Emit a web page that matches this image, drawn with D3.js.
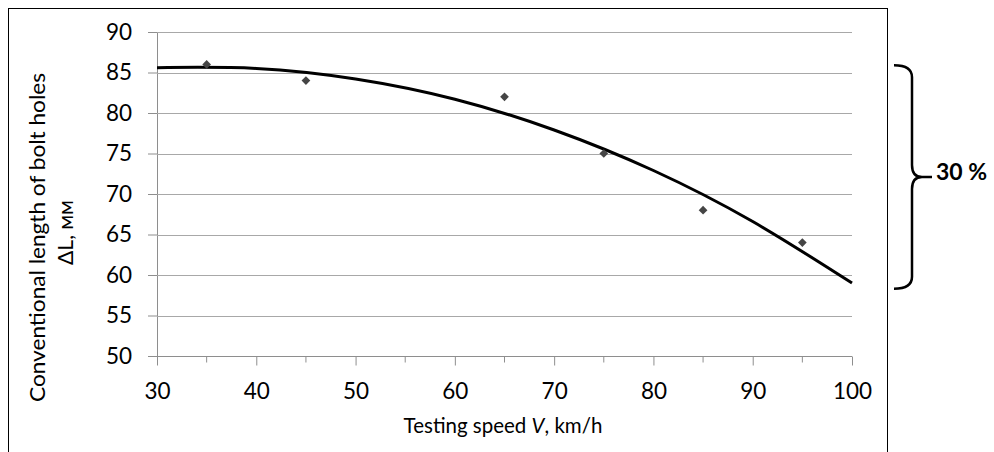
<!DOCTYPE html>
<html>
<head>
<meta charset="utf-8">
<script src="https://cdn.jsdelivr.net/npm/d3@7"></script>
<style>
  html, body { margin: 0; padding: 0; background: #fff; }
  svg { display: block; }
  text { font-family: Lato, "Open Sans", sans-serif; fill: #000; }
</style>
</head>
<body>
<svg id="chart" width="994" height="452"></svg>
<script>
// ---- data ----
const speeds = [35, 45, 65, 75, 85, 95];          // km/h
const lengths = [86, 84, 82, 75, 68, 64];         // ΔL, мм (measured points)
const trendSpeeds = [30, 40, 50, 60, 70, 80, 90, 100];
const trendLengths = [85.6, 85.5, 84.2, 81.7, 77.9, 72.9, 66.6, 59.0]; // trend line
const xTicks = [30, 40, 50, 60, 70, 80, 90, 100];
const xMinorTicks = [35, 45, 55, 65, 75, 85, 95];
const yTicks = [50, 55, 60, 65, 70, 75, 80, 85, 90];
const bracketRange = [85.9, 58.3];
const bracketLabel = "30 %";

const svg = d3.select("#chart");

// outer frame
svg.append("rect")
  .attr("x", 8.5).attr("y", 8.5).attr("width", 879).attr("height", 460)
  .attr("fill", "none").attr("stroke", "#000").attr("stroke-width", 1);

const x = d3.scaleLinear().domain([30, 100]).range([157, 852]);
const y = d3.scaleLinear().domain([50, 90]).range([356, 32]);

const gridColor = "#a8a8a8";
const axisColor = "#8e8e8e";

// y axis ticks and labels
const yAxis = d3.axisLeft(y).tickValues(yTicks).tickSize(9).tickSizeOuter(0).tickFormat(d3.format("d"));
const gy = svg.append("g").attr("transform", `translate(${x(30)},0)`).call(yAxis);
gy.select(".domain").attr("stroke", axisColor).attr("d", `M0.5,${y(90)}V${y(50) + 9}`);
gy.selectAll(".tick line").attr("stroke", axisColor);
gy.selectAll(".tick text").attr("x", -25).attr("font-size", 22.5).attr("fill", "#000")
  .style("font-family", "Lato, sans-serif");

// horizontal gridlines
svg.append("g").selectAll("line").data(yTicks).join("line")
  .attr("x1", x(30)).attr("x2", x(100))
  .attr("y1", d => Math.round(y(d)) + 0.5).attr("y2", d => Math.round(y(d)) + 0.5)
  .attr("stroke", d => d === 50 ? axisColor : gridColor).attr("stroke-width", 1);

// x axis (major and minor ticks)
const gx = svg.append("g").attr("transform", `translate(0,${Math.round(y(50)) + 0.5})`);
gx.call(d3.axisBottom(x).tickValues(xTicks).tickSize(9).tickSizeOuter(0).tickFormat(d3.format("d")));
gx.select(".domain").remove();
gx.selectAll(".tick line").attr("stroke", axisColor);
gx.selectAll(".tick text").attr("y", 27).attr("font-size", 22.5).attr("fill", "#000")
  .style("font-family", "Lato, sans-serif");
gx.append("g").selectAll("line").data(xMinorTicks).join("line")
  .attr("x1", d => x(d)).attr("x2", d => x(d)).attr("y1", 0).attr("y2", 6)
  .attr("stroke", axisColor);

// trend line
const line = d3.line().x(d => x(d[0])).y(d => y(d[1])).curve(d3.curveNatural);
svg.append("path")
  .datum(trendSpeeds.map((s, i) => [s, trendLengths[i]]))
  .attr("d", line)
  .attr("fill", "none").attr("stroke", "#000").attr("stroke-width", 3);

// data points (diamonds)
svg.append("g").selectAll("path").data(speeds.map((s, i) => [s, lengths[i]])).join("path")
  .attr("transform", d => `translate(${x(d[0])},${y(d[1])}) rotate(45)`)
  .attr("d", d3.symbol().type(d3.symbolSquare).size(38))
  .attr("fill", "#454545");

// axis titles
svg.append("text")
  .attr("transform", "translate(45,237.5) rotate(-90)")
  .attr("text-anchor", "middle").attr("font-size", 21)
  .attr("textLength", 329).attr("lengthAdjust", "spacingAndGlyphs")
  .text("Conventional length of bolt holes");
svg.append("text")
  .attr("transform", "translate(73,232.5) rotate(-90)")
  .attr("text-anchor", "middle").attr("font-size", 21)
  .text("ΔL, мм");

const xt = svg.append("text")
  .attr("x", 503).attr("y", 433)
  .attr("text-anchor", "middle").attr("font-size", 20.5);
xt.append("tspan").text("Testing speed ");
xt.append("tspan").attr("font-style", "italic").text("V");
xt.append("tspan").text(", km/h");

// bracket
const bt = y(bracketRange[0]), bb = y(bracketRange[1]), bm = (bt + bb) / 2;
const bx0 = 894, bx1 = 912, bx2 = 932;
svg.append("path")
  .attr("d", `M${bx0},${bt} Q${bx1},${bt} ${bx1},${bt + 12} L${bx1},${bm - 12} Q${bx1},${bm} ${bx1 + 10},${bm} L${bx2},${bm}` +
             ` M${bx1 + 10},${bm} Q${bx1},${bm} ${bx1},${bm + 12} L${bx1},${bb - 12} Q${bx1},${bb} ${bx0},${bb}`)
  .attr("fill", "none").attr("stroke", "#000").attr("stroke-width", 2.5);

svg.append("text")
  .attr("x", 936).attr("y", 180)
  .attr("font-size", 23).attr("font-weight", "bold")
  .text(bracketLabel);
</script>
</body>
</html>
